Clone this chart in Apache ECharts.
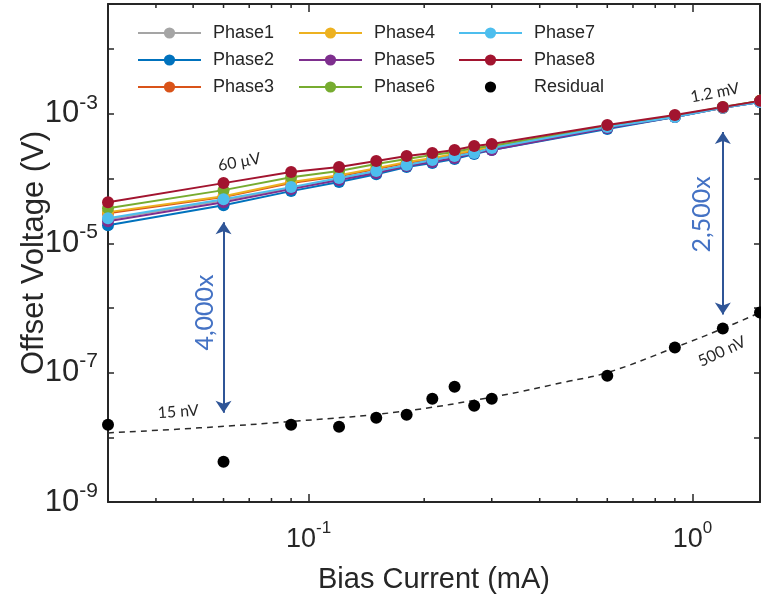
<!DOCTYPE html>
<html>
<head>
<meta charset="utf-8">
<script src="https://cdn.jsdelivr.net/npm/echarts@6/dist/echarts.min.js"></script>
<style>
  html, body { margin: 0; padding: 0; background: #fff; }
  #main { width: 761px; height: 595px; }
</style>
</head>
<body>
<div id="main"></div>
<script>
// bias current (mA)
const biasCurrent = [0.03, 0.06, 0.09, 0.12, 0.15, 0.18, 0.21, 0.24, 0.27, 0.30, 0.6, 0.9, 1.2, 1.5];

// offset voltage (V) per phase
const phase1 = [2.36e-5, 4.64e-5, 7.12e-5, 9.82e-5, 1.26e-4, 1.62e-4, 1.87e-4, 2.15e-4, 2.48e-4, 2.87e-4, 6.07e-4, 8.97e-4, 1.24e-3, 1.53e-3];
const phase2 = [1.90e-5, 3.88e-5, 6.40e-5, 8.83e-5, 1.17e-4, 1.51e-4, 1.74e-4, 2.01e-4, 2.40e-4, 2.77e-4, 5.85e-4, 8.97e-4, 1.24e-3, 1.53e-3];
const phase3 = [2.92e-5, 5.17e-5, 8.51e-5, 1.09e-4, 1.40e-4, 1.74e-4, 2.01e-4, 2.31e-4, 2.67e-4, 2.97e-4, 6.29e-4, 9.31e-4, 1.24e-3, 1.59e-3];
const phase4 = [3.03e-5, 5.35e-5, 8.83e-5, 1.13e-4, 1.45e-4, 1.80e-4, 2.08e-4, 2.40e-4, 2.77e-4, 3.08e-4, 6.29e-4, 9.31e-4, 1.24e-3, 1.59e-3];
const phase5 = [2.19e-5, 4.32e-5, 6.87e-5, 9.48e-5, 1.22e-4, 1.56e-4, 1.80e-4, 2.08e-4, 2.48e-4, 2.77e-4, 6.07e-4, 8.97e-4, 1.24e-3, 1.53e-3];
const phase6 = [3.49e-5, 6.63e-5, 1.05e-4, 1.31e-4, 1.68e-4, 2.01e-4, 2.31e-4, 2.58e-4, 2.97e-4, 3.19e-4, 6.52e-4, 9.31e-4, 1.28e-3, 1.59e-3];
const phase7 = [2.44e-5, 4.81e-5, 7.38e-5, 1.02e-4, 1.31e-4, 1.62e-4, 1.94e-4, 2.23e-4, 2.48e-4, 2.97e-4, 6.29e-4, 8.97e-4, 1.24e-3, 1.53e-3];
const phase8 = [4.32e-5, 8.51e-5, 1.26e-4, 1.51e-4, 1.87e-4, 2.23e-4, 2.48e-4, 2.77e-4, 3.19e-4, 3.43e-4, 6.74e-4, 9.64e-4, 1.28e-3, 1.59e-3];
const residual = [1.56e-8, 4.2e-9, 1.56e-8, 1.46e-8, 2.0e-8, 2.23e-8, 3.95e-8, 6.07e-8, 3.07e-8, 3.95e-8, 8.97e-8, 2.44e-7, 4.8e-7, 8.5e-7];

// dashed trend through the residual
const fitCurrent = [0.03, 0.052, 0.095, 0.173, 0.315, 0.47, 0.6, 0.9, 1.2, 1.5];
const fitVoltage = [1.17e-8, 1.40e-8, 1.80e-8, 2.49e-8, 4.40e-8, 7.25e-8, 1.0e-7, 2.44e-7, 4.8e-7, 8.5e-7];

// minor ticks on the x axis (the decades are drawn by the axis itself)
const xMinorTicks = [0.04, 0.05, 0.06, 0.07, 0.08, 0.09, 0.2, 0.3, 0.4, 0.5, 0.6, 0.7, 0.8, 0.9];

const X_MIN = 0.03, X_MAX = 1.5;
const Y_MIN = 1e-9, Y_MAX = 0.05;

const phaseNames = ['Phase1', 'Phase2', 'Phase3', 'Phase4', 'Phase5', 'Phase6', 'Phase7', 'Phase8'];
const phaseData = [phase1, phase2, phase3, phase4, phase5, phase6, phase7, phase8];
const phaseColors = ['#A5A5A5', '#0072BD', '#D95319', '#EDB120', '#7E2F8E', '#77AC30', '#4DBEEE', '#A2142F'];

const FONT = 'Liberation Sans';
const NOTE_FONT = 'Lato';
const INK = '#262626';

var myChart = echarts.init(document.getElementById('main'));

// 10^n labels, only on the decades we want
function decadeLabel(step) {
  return function (v) {
    const e = Math.log10(v);
    const n = Math.round(e);
    if (Math.abs(e - n) > 1e-6) return '';
    if (step === 2 && (n % 2 === 0)) return '';
    return '{b|10}{s|' + n + '}';
  };
}

function richFor(size, sup) {
  return {
    b: { fontSize: size, fontFamily: FONT, color: INK, lineHeight: size + 12 },
    s: { fontSize: sup, fontFamily: FONT, color: INK, lineHeight: sup, verticalAlign: 'top' },
  };
}

const lineSeries = phaseNames.map((name, i) => ({
  name: name,
  type: 'line',
  data: biasCurrent.map((x, k) => [x, phaseData[i][k]]),
  symbol: 'circle',
  symbolSize: 12,
  showSymbol: true,
  clip: false,
  color: phaseColors[i],
  lineStyle: { width: 2, color: phaseColors[i] },
  itemStyle: { color: phaseColors[i], opacity: 1 },
  emphasis: { disabled: true },
  z: 3,
}));

const noteLabel = { fontFamily: NOTE_FONT, fontSize: 16, color: INK };
const bigNote = { fontFamily: NOTE_FONT, fontSize: 25, color: '#4472C4' };

const option = {
  backgroundColor: '#fff',
  animation: false,
  grid: { left: 108, right: 1, top: 4, bottom: 93, outerBoundsMode: 'none', containLabel: false },
  legend: [
    { data: ['Phase1', 'Phase2', 'Phase3'], left: 137 },
    { data: ['Phase4', 'Phase5', 'Phase6'], left: 298 },
    { data: ['Phase7', 'Phase8', { name: 'Residual', lineStyle: { opacity: 0 } }], left: 458 },
  ].map((l) => Object.assign({
    top: 24,
    orient: 'vertical',
    padding: 0,
    itemWidth: 63,
    itemHeight: 14,
    itemGap: 9,
    selectedMode: false,
    textStyle: { fontFamily: FONT, fontSize: 18, color: INK, lineHeight: 18, padding: [0, 0, 0, 7] },
  }, l)),
  xAxis: [
    {
      type: 'log', logBase: 10, min: X_MIN, max: X_MAX, position: 'bottom',
      axisLine: { show: true, lineStyle: { color: INK, width: 2 } },
      axisTick: { show: true, inside: true, length: 8, lineStyle: { color: INK, width: 1.5 } },
      axisLabel: { formatter: decadeLabel(1), margin: 18, rich: richFor(27, 17) },
      splitLine: { show: false },
      name: 'Bias Current (mA)', nameLocation: 'middle', nameGap: 63,
      nameTextStyle: { fontFamily: FONT, fontSize: 29, color: INK },
    },
    {
      type: 'log', logBase: 10, min: X_MIN, max: X_MAX, position: 'top',
      axisLine: { show: true, lineStyle: { color: INK, width: 2 } },
      axisTick: { show: true, inside: true, length: 8, lineStyle: { color: INK, width: 1.5 } },
      axisLabel: { show: false },
      splitLine: { show: false },
    },
  ],
  yAxis: [
    {
      type: 'log', logBase: 10, min: Y_MIN, max: Y_MAX, position: 'left',
      axisLine: { show: true, lineStyle: { color: INK, width: 2 } },
      axisTick: { show: true, inside: true, length: 6, lineStyle: { color: INK, width: 1.5 } },
      axisLabel: { formatter: decadeLabel(2), margin: 10, rich: richFor(31, 21) },
      splitLine: { show: false },
      name: 'Offset Voltage (V)', nameLocation: 'middle', nameGap: 58, nameMoveOverlap: false,
      nameTextStyle: { fontFamily: FONT, fontSize: 31, color: INK },
    },
    {
      type: 'log', logBase: 10, min: Y_MIN, max: Y_MAX, position: 'right',
      axisLine: { show: true, lineStyle: { color: INK, width: 2 } },
      axisTick: { show: true, inside: true, length: 6, lineStyle: { color: INK, width: 1.5 } },
      axisLabel: { show: false },
      splitLine: { show: false },
    },
  ],
  series: lineSeries.concat([
    {
      name: 'Residual',
      type: 'line',
      data: biasCurrent.map((x, k) => [x, residual[k]]),
      symbol: 'circle',
      symbolSize: 12,
      showSymbol: true,
      clip: false,
      color: '#000',
      lineStyle: { opacity: 0 },
      itemStyle: { color: '#000', opacity: 1 },
      emphasis: { disabled: true },
      z: 4,
    },
    {
      name: 'fit',
      type: 'line',
      data: fitCurrent.map((x, k) => [x, fitVoltage[k]]),
      smooth: 0.4,
      symbol: 'none',
      lineStyle: { color: '#2b2b2b', width: 1.5, type: [6, 5] },
      emphasis: { disabled: true },
      silent: true,
      z: 2,
      markPoint: {
        symbol: 'rect',
        symbolSize: 1,
        silent: true,
        itemStyle: { color: 'rgba(0,0,0,0)' },
        label: { show: true, position: 'inside' },
        data: [
          { coord: [0.066, 1.8e-4], label: Object.assign({ formatter: '60 μV', rotate: 10 }, noteLabel) },
          { coord: [1.145, 2.12e-3], label: Object.assign({ formatter: '1.2 mV', rotate: 11 }, noteLabel) },
          { coord: [0.0457, 2.49e-8], label: Object.assign({ formatter: '15 nV', rotate: 4 }, noteLabel) },
          { coord: [1.194, 2.12e-7], label: Object.assign({ formatter: '500 nV', rotate: 25 }, noteLabel) },
          { coord: [0.0537, 8.5e-7], label: Object.assign({ formatter: '4,000x', rotate: 90 }, bigNote) },
          { coord: [1.06, 2.8e-5], label: Object.assign({ formatter: '2,500x', rotate: 90 }, bigNote) },
        ],
      },
      markLine: {
        silent: true,
        symbol: ['arrow', 'arrow'],
        symbolSize: 12,
        label: { show: false },
        lineStyle: { color: '#2F5597', width: 2, type: 'solid' },
        emphasis: { disabled: true },
        data: [
          [{ coord: [0.06, 2.12e-5] }, { coord: [0.06, 2.4e-8] }],
          [{ coord: [1.2, 5.26e-4] }, { coord: [1.2, 7.9e-7] }],
        ],
      },
    },
    {
      // minor ticks of the log x axis, bottom and top edges
      name: 'minorTicks',
      type: 'custom',
      silent: true,
      clip: false,
      data: xMinorTicks.map((v) => [v, Y_MIN]),
      renderItem: function (params, api) {
        const bottom = api.coord([api.value(0), Y_MIN]);
        const top = api.coord([api.value(0), Y_MAX]);
        const st = { stroke: INK, lineWidth: 1.5 };
        return {
          type: 'group',
          children: [
            { type: 'line', shape: { x1: bottom[0], y1: bottom[1], x2: bottom[0], y2: bottom[1] - 4 }, style: st },
            { type: 'line', shape: { x1: top[0], y1: top[1], x2: top[0], y2: top[1] + 4 }, style: st },
          ],
        };
      },
      z: 1,
    },
  ]),
};

myChart.setOption(option);
</script>
</body>
</html>
